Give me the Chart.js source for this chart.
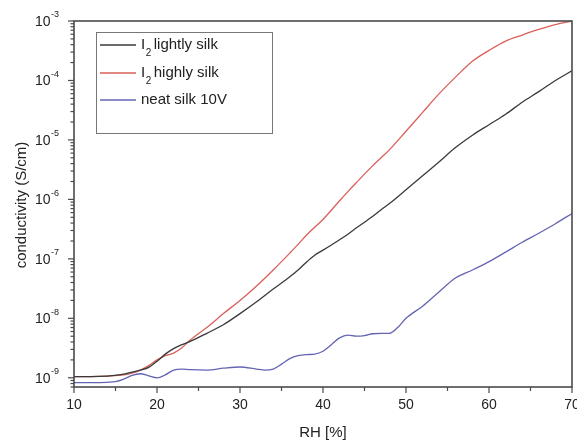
<!DOCTYPE html>
<html><head><meta charset="utf-8">
<script src="https://cdn.jsdelivr.net/npm/chart.js@4/dist/chart.umd.min.js"></script>
<style>html,body{margin:0;padding:0;background:#fff}#wrap{width:577px;height:443px}</style>
</head><body><div id="wrap"><canvas id="c" width="577" height="443"></canvas></div>
<script>
const seriesLabels = ["lightly silk", "highly silk", "neat silk 10V"];
const rhI2 = [10,12,14,16,17,18,19,20,21,22,23,24,26,28,30,32,34,36,37,38,39,40,42,43,44,46,47,48,50,52,54,56,58,60,62,64,66,68,70];
const lightly = [1.05e-9,1.05e-9,1.07e-9,1.15e-9,1.25e-9,1.35e-9,1.5e-9,1.9e-9,2.5e-9,3.1e-9,3.6e-9,4.1e-9,5.6e-9,7.8e-9,1.2e-8,1.9e-8,3.1e-8,5e-8,6.5e-8,8.8e-8,1.15e-7,1.4e-7,2.1e-7,2.6e-7,3.3e-7,5.2e-7,6.7e-7,8.5e-7,1.45e-6,2.5e-6,4.3e-6,7.5e-6,1.2e-5,1.8e-5,2.7e-5,4.3e-5,6.5e-5,1e-4,1.45e-4];
const highly = [1.05e-9,1.05e-9,1.07e-9,1.12e-9,1.2e-9,1.35e-9,1.6e-9,2e-9,2.35e-9,2.6e-9,3.2e-9,4.3e-9,7e-9,1.2e-8,2e-8,3.5e-8,6.5e-8,1.25e-7,1.75e-7,2.5e-7,3.4e-7,4.6e-7,9.5e-7,1.35e-6,1.9e-6,3.7e-6,5e-6,6.8e-6,1.4e-5,2.9e-5,6e-5,1.15e-4,2.1e-4,3.2e-4,4.6e-4,5.8e-4,7.2e-4,8.7e-4,1e-3];
const rhNeat = [10,12,14,15,16,17,18,19,20,21,22,23,24,26,28,30,32,33,34,35,36,37,38,39,40,41,42,43,44,45,46,47,48,49,50,52,54,56,58,60,62,64,66,68,70];
const neat = [8.3e-10,8.3e-10,8.4e-10,8.6e-10,9.5e-10,1.1e-9,1.17e-9,1.08e-9,1e-9,1.12e-9,1.35e-9,1.4e-9,1.37e-9,1.35e-9,1.45e-9,1.52e-9,1.4e-9,1.35e-9,1.4e-9,1.7e-9,2.1e-9,2.35e-9,2.45e-9,2.5e-9,2.8e-9,3.6e-9,4.7e-9,5.2e-9,5.0e-9,5.1e-9,5.5e-9,5.6e-9,5.6e-9,7e-9,1e-8,1.6e-8,2.8e-8,4.8e-8,6.5e-8,9e-8,1.3e-7,1.9e-7,2.7e-7,3.9e-7,5.8e-7];
const xTicks = [10,20,30,40,50,60,70];
const yDecades = [-9,-8,-7,-6,-5,-4,-3];
const xTitle = "RH [%]";
const yTitle = "conductivity (S/cm)";

const FONT = "'Liberation Sans', Arial, sans-serif";
const colors = ["#3a3a3a", "#d9605a", "#6464b4"];
const pts = (xs, ys) => xs.map((x, i) => ({x, y: ys[i]}));

const axesPlugin = {
  id: 'axesPlugin',
  afterDraw(chart) {
    const ctx = chart.ctx, a = chart.chartArea;
    const xs = chart.scales.x, ys = chart.scales.y;
    ctx.save();
    ctx.strokeStyle = '#4a4a4a'; ctx.lineWidth = 1.6;
    ctx.strokeRect(a.left, a.top, a.right - a.left, a.bottom - a.top);
    ctx.lineWidth = 1.2;
    for (let v = 10; v <= 70; v += 5) {
      const px = xs.getPixelForValue(v);
      const len = v % 10 === 0 ? 6 : 4;
      ctx.beginPath(); ctx.moveTo(px, a.bottom); ctx.lineTo(px, a.bottom + len); ctx.stroke();
    }
    ctx.fillStyle = '#222'; ctx.font = '14px ' + FONT; ctx.textAlign = 'center'; ctx.textBaseline = 'middle';
    xTicks.forEach(v => ctx.fillText(String(v), xs.getPixelForValue(v), a.bottom + 18));
    for (let d = -10; d <= -3; d++) {
      for (let m = 1; m <= 9; m++) {
        const val = m * Math.pow(10, d);
        if (val < ys.min * 0.999 || val > ys.max * 1.001) continue;
        const py = ys.getPixelForValue(val);
        const len = m === 1 ? 6 : 3.5;
        ctx.beginPath(); ctx.moveTo(a.left - len, py); ctx.lineTo(a.left, py); ctx.stroke();
      }
    }
    yDecades.forEach(d => {
      const py = ys.getPixelForValue(Math.pow(10, d));
      ctx.font = '9px ' + FONT; ctx.textAlign = 'right'; ctx.textBaseline = 'middle';
      const exp = String(d);
      const ew = ctx.measureText(exp).width;
      ctx.fillText(exp, 59, py - 6);
      ctx.font = '14px ' + FONT;
      ctx.fillText('10', 59 - ew - 0.5, py + 1);
    });
    ctx.font = '15px ' + FONT; ctx.textAlign = 'center'; ctx.textBaseline = 'middle';
    ctx.fillText(xTitle, 323, 433);
    ctx.translate(22, 205); ctx.rotate(-Math.PI / 2);
    ctx.fillText(yTitle, 0, 0);
    ctx.restore();
    ctx.save();
    ctx.fillStyle = '#fff'; ctx.fillRect(96.5, 32.5, 176, 101);
    ctx.strokeStyle = '#777'; ctx.lineWidth = 1;
    ctx.strokeRect(96.5, 32.5, 176, 101);
    const rows = [45, 73, 100];
    chart.data.datasets.forEach((ds, i) => {
      const y = rows[i];
      ctx.strokeStyle = ds.borderColor; ctx.lineWidth = 1.3;
      ctx.beginPath(); ctx.moveTo(100, y); ctx.lineTo(136, y); ctx.stroke();
      ctx.fillStyle = '#222'; ctx.textBaseline = 'middle'; ctx.textAlign = 'left';
      let x = 141;
      if (i < 2) {
        ctx.font = '15px ' + FONT; ctx.fillText('I', x, y);
        x += ctx.measureText('I').width + 0.5;
        ctx.font = '10px ' + FONT; ctx.fillText('2', x, y + 8);
        x += ctx.measureText('2').width + 2.5;
      }
      ctx.font = '15px ' + FONT; ctx.fillText(ds.label, x, y);
    });
    ctx.restore();
  }
};

new Chart(document.getElementById('c'), {
  type: 'line',
  data: {
    datasets: [
      {label: seriesLabels[0], data: pts(rhI2, lightly), borderColor: colors[0]},
      {label: seriesLabels[1], data: pts(rhI2, highly), borderColor: colors[1]},
      {label: seriesLabels[2], data: pts(rhNeat, neat), borderColor: colors[2]}
    ]
  },
  options: {
    responsive: false, animation: false,
    layout: {padding: {top: 21, right: 5, left: 0, bottom: 0}},
    elements: {point: {radius: 0}, line: {borderWidth: 1.3, tension: 0.4, cubicInterpolationMode: 'monotone'}},
    plugins: {legend: {display: false}, tooltip: {enabled: false}},
    scales: {
      x: {type: 'linear', min: 10, max: 70, grid: {display: false}, border: {display: false},
          ticks: {display: false}, afterFit: s => { s.height = 56; s.paddingLeft = 0; s.paddingRight = 0; }},
      y: {type: 'logarithmic', min: 7.1e-10, max: 1e-3, grid: {display: false}, border: {display: false},
          ticks: {display: false}, afterFit: s => { s.width = 74; s.paddingTop = 0; s.paddingBottom = 0; }}
    }
  },
  plugins: [axesPlugin]
});
</script></body></html>
